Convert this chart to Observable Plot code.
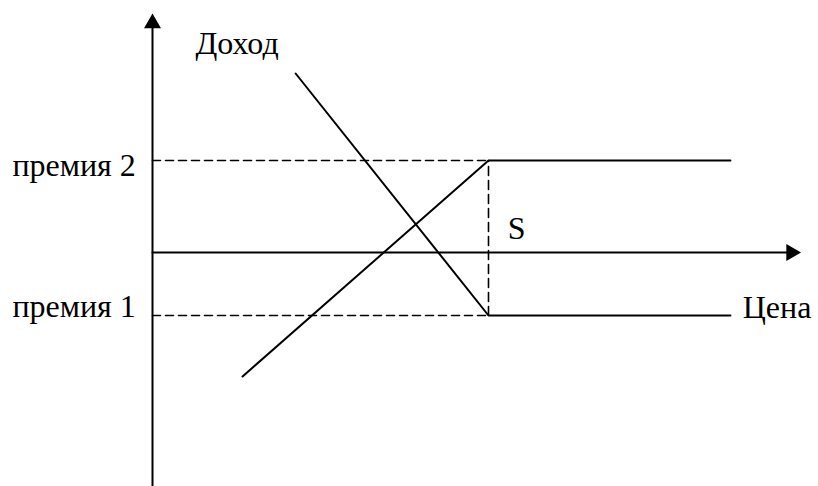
<!DOCTYPE html>
<html>
<head>
<meta charset="utf-8">
<script src="https://cdn.jsdelivr.net/npm/d3@7"></script>
<script src="https://cdn.jsdelivr.net/npm/@observablehq/plot@0.6"></script>
<style>
  html, body { margin: 0; padding: 0; background: #fff; }
  #chart svg { display: block; }
</style>
</head>
<body>
<div id="chart"></div>
<script>
// Abstract units: x = price (S = 10), y = income (0 on the price axis)
const S = 10;
const premium2 = 4.6;
const premium1 = -3.15;
const xEnd = 17.2;

// Rising line
const risingX = [2.68, S, xEnd];
const risingY = [-6.2, premium2, premium2];
// Falling line
const fallingX = [4.26, S, xEnd];
const fallingY = [8.95, premium1, premium1];

// Axes extents
const yAxisBottom = -11.7, yAxisTip = 11.95;
const xAxisTip = 19.3;

// Labels
const labelText = ["Доход", "премия 2", "премия 1", "Цена", "S"];
const labelX = [1.28, -4.17, -4.17, 19.61, 10.57];
const labelY = [9.95, 3.85, -3.2, -3.25, 0.7];
const labelAnchor = ["start", "start", "start", "end", "start"];

const labels = labelText.map((t, i) => ({t, x: labelX[i], y: labelY[i], a: labelAnchor[i]}));
const rising = risingX.map((x, i) => ({x, y: risingY[i]}));
const falling = fallingX.map((x, i) => ({x, y: fallingY[i]}));

const pxX = 33.6, pxY = 20;
const W = 818, H = 486;
const x0 = 152, y0 = 252;

const font = "'Liberation Serif', 'Times New Roman', serif";
const textOpts = {x: "x", y: "y", text: "t", lineAnchor: "bottom", fontSize: 32, fontFamily: font, fill: "#000"};

const chart = Plot.plot({
  width: W,
  height: H,
  margin: 0,
  x: {domain: [-x0 / pxX, (W - x0) / pxX], axis: null},
  y: {domain: [-(H - y0) / pxY, y0 / pxY], axis: null},
  marks: [
    // dashed guides
    Plot.line([{x: 0, y: premium2}, {x: S, y: premium2}], {x: "x", y: "y", stroke: "#000", strokeWidth: 1.6, strokeDasharray: "8,5"}),
    Plot.line([{x: 0, y: premium1}, {x: S, y: premium1}], {x: "x", y: "y", stroke: "#000", strokeWidth: 1.6, strokeDasharray: "8,5"}),
    Plot.line([{x: S, y: premium1}, {x: S, y: premium2}], {x: "x", y: "y", stroke: "#000", strokeWidth: 1.6, strokeDasharray: "9,5"}),
    // axes
    Plot.line([{x: 0, y: yAxisBottom}, {x: 0, y: yAxisTip - 0.6}], {x: "x", y: "y", stroke: "#000", strokeWidth: 2}),
    Plot.line([{x: 0, y: 0}, {x: xAxisTip - 0.4, y: 0}], {x: "x", y: "y", stroke: "#000", strokeWidth: 2}),
    Plot.dot([{x: 0, y: yAxisTip - 0.49}], {x: "x", y: "y", symbol: "triangle", r: 6.3, fill: "#000", stroke: null}),
    Plot.dot([{x: xAxisTip - 0.29, y: 0}], {x: "x", y: "y", symbol: "triangle", r: 6.3, fill: "#000", stroke: null, rotate: 90}),
    // payoff lines
    Plot.line(rising, {x: "x", y: "y", stroke: "#000", strokeWidth: 2}),
    Plot.line(falling, {x: "x", y: "y", stroke: "#000", strokeWidth: 2}),
    // labels
    Plot.text(labels.filter(d => d.a === "start"), {...textOpts, textAnchor: "start"}),
    Plot.text(labels.filter(d => d.a === "end"), {...textOpts, textAnchor: "end"})
  ]
});
document.getElementById("chart").appendChild(chart);
</script>
</body>
</html>
